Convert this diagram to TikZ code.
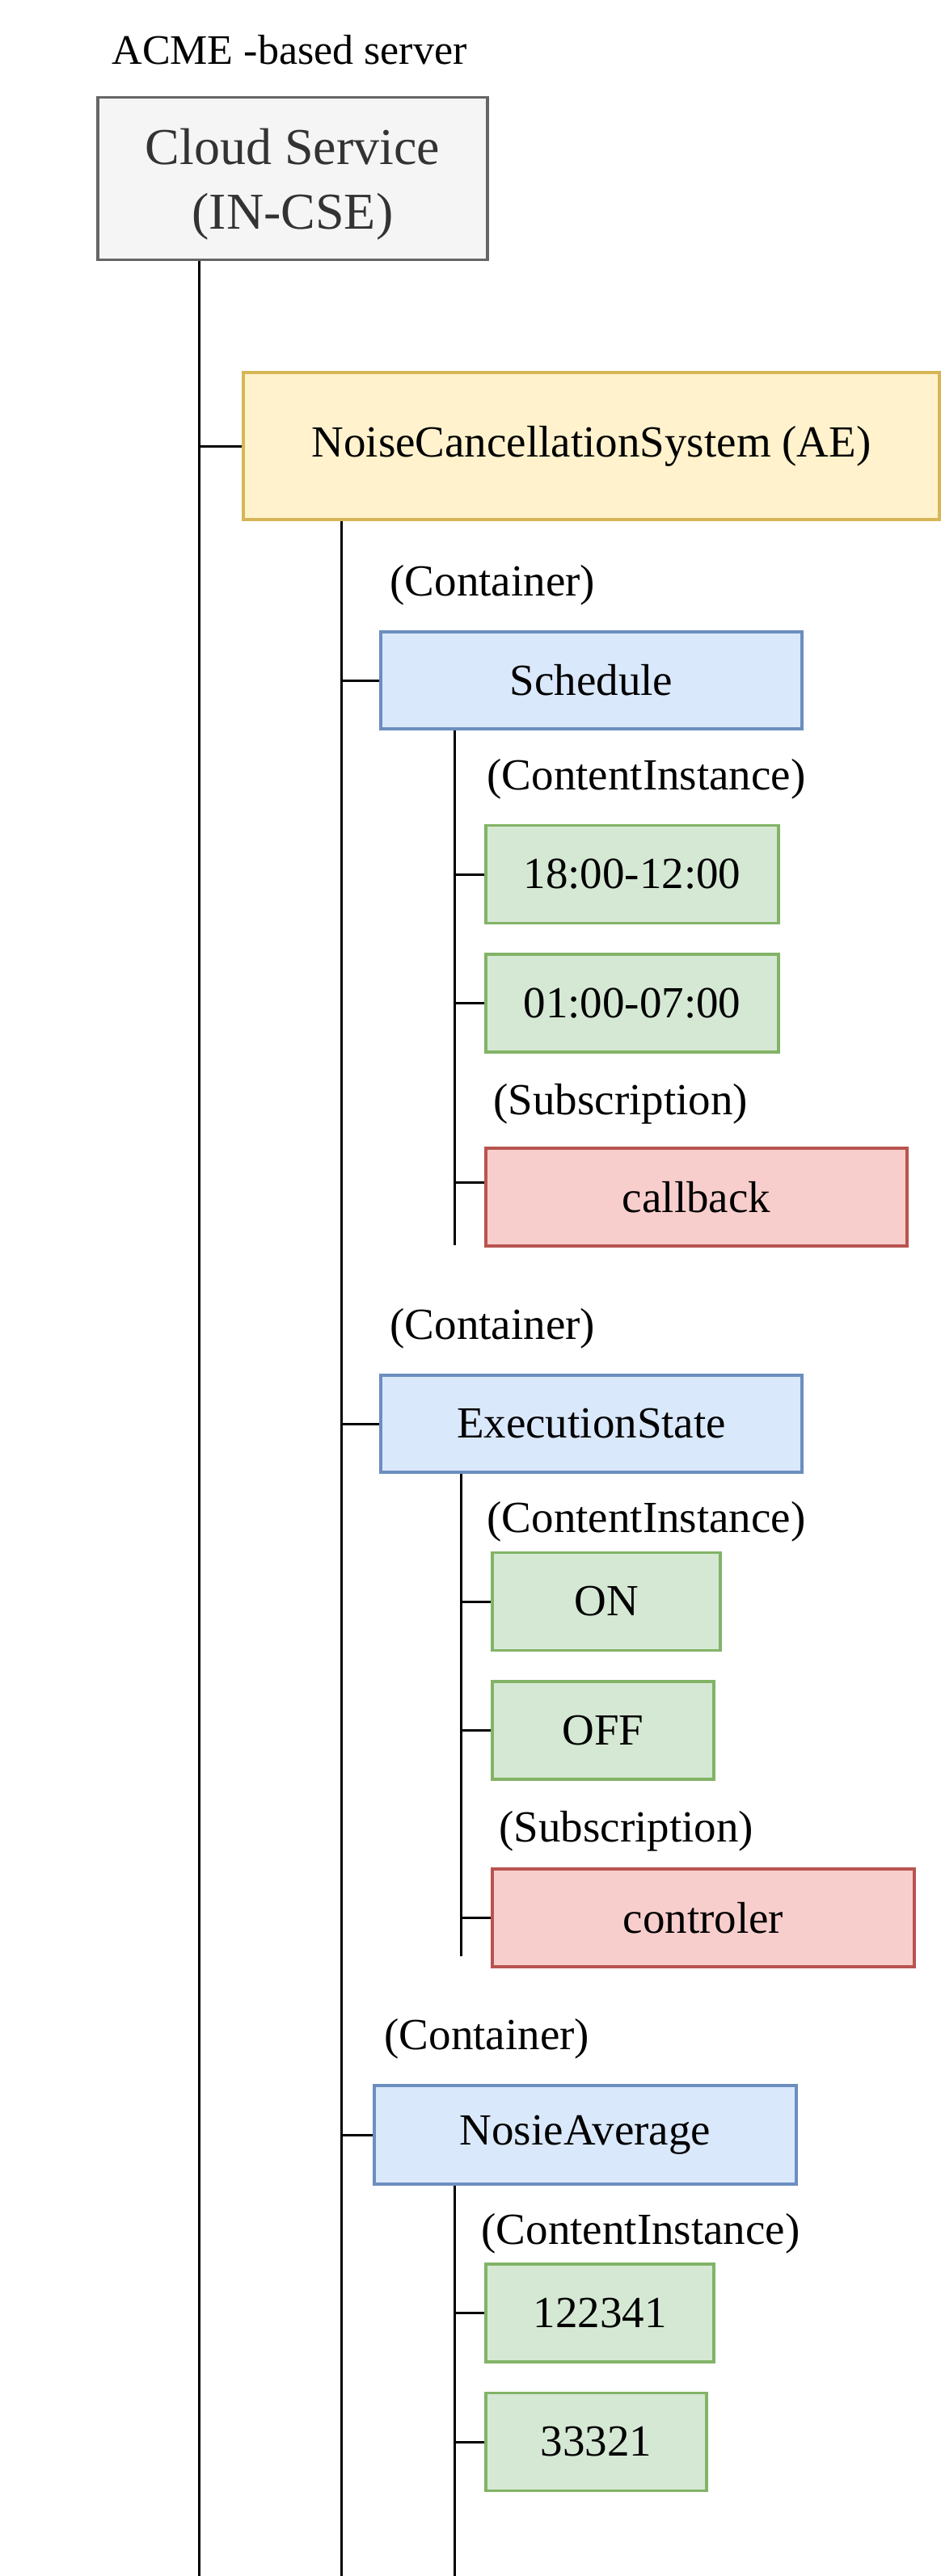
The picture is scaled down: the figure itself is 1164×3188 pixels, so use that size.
\documentclass[tikz,border=0pt]{standalone}
\usepackage{fontspec}
\setmainfont{Liberation Serif}

\definecolor{cseFill}{HTML}{F5F5F5}
\definecolor{cseDraw}{HTML}{666666}
\definecolor{cseText}{HTML}{333333}
\definecolor{aeFill}{HTML}{FFF2CC}
\definecolor{aeDraw}{HTML}{D6B656}
\definecolor{cntFill}{HTML}{DAE8FC}
\definecolor{cntDraw}{HTML}{6C8EBF}
\definecolor{cinFill}{HTML}{D5E8D4}
\definecolor{cinDraw}{HTML}{82B366}
\definecolor{subFill}{HTML}{F8CECC}
\definecolor{subDraw}{HTML}{B85450}

\tikzset{every picture/.style={line width=0.75pt}}

\begin{document}
\begin{tikzpicture}[x=0.25pt,y=0.25pt,yscale=-1,xscale=1,
  cell/.style={draw, line width=0.9pt, inner sep=0pt, align=center, font=\fontsize{13.75}{16.5}\selectfont},
  cnt/.style={cell, fill=cntFill, draw=cntDraw, minimum width=130.25pt, minimum height=30pt},
  cin/.style={cell, fill=cinFill, draw=cinDraw, minimum height=30.25pt},
  sub/.style={cell, fill=subFill, draw=subDraw, minimum width=130.25pt, minimum height=30.25pt},
  tag/.style={anchor=base west, inner sep=0pt, font=\fontsize{13.75}{16.5}\selectfont}]
\useasboundingbox (0,0) rectangle (1164,3188);

% Text Node
\node [tag, font=\fontsize{13}{15.6}\selectfont] (server) at (137,80) {ACME -based server};

%Shape: Rectangle (IN-CSE)
\node [cell, fill=cseFill, draw=cseDraw, minimum width=120.5pt, minimum height=50.25pt] (cse) at (362,221) {};
\node [inner sep=0pt, align=center, text=cseText, font=\fontsize{16}{20}\selectfont] (cseText) at ([yshift=1.75pt]cse.center) {Cloud Service\\(IN-CSE)};
%Shape: Rectangle (AE)
\node [cell, fill=aeFill, draw=aeDraw, minimum width=215.25pt, minimum height=45.5pt] (ae) at (731.5,552) {NoiseCancellationSystem (AE)};

% Containers
\node [tag] (lblSch) at (481,737) {(Container)};
\node [cnt] (sched) at (731.5,842) {Schedule};
\node [tag] (lblExe) at (481,1657) {(Container)};
\node [cnt] (exec) at (731.5,1762) {ExecutionState};
\node [tag] (lblAvg) at (474,2536) {(Container)};
\node [cnt, minimum width=130.5pt, minimum height=30.5pt] (avg) at (724,2642) {NosieAverage};

% Schedule children
\node [tag] (lblSchCin) at (601,977) {(ContentInstance)};
\node [cin, minimum width=90.5pt] (cinA) at (782,1082) {18:00-12:00};
\node [cin, minimum width=90.5pt] (cinB) at (782,1241.5) {01:00-07:00};
\node [tag] (lblSchSub) at (609,1379) {(Subscription)};
\node [sub] (callback) at (861.5,1481.5) {callback};

% ExecutionState children
\node [tag] (lblExeCin) at (601,1896) {(ContentInstance)};
\node [cin, minimum width=70.5pt] (cinOn) at (750,1982) {ON};
\node [cin, minimum width=68.5pt] (cinOff) at (746,2141.5) {OFF};
\node [tag] (lblExeSub) at (616,2279) {(Subscription)};
\node [sub, minimum width=130.5pt] (ctrl) at (870,2373.5) {controler};

% NosieAverage children
\node [tag] (lblAvgCin) at (594,2777) {(ContentInstance)};
\node [cin, minimum width=70.5pt] (cinC) at (742,2862.5) {122341};
\node [cin, minimum width=68.25pt] (cinD) at (737.5,3022) {33321};

% Trunk ends
\coordinate (cseEnd) at (246,3188);
\coordinate (aeEnd) at (422,3188);
\coordinate (schEnd) at (562,1541);
\coordinate (exeEnd) at (570,2421);
\coordinate (avgEnd) at (562,3188);
\coordinate (cbTick) at ([yshift=-4.6pt]callback.west);

%Straight Lines
\draw (cse.south -| cseEnd) -- (cseEnd);
\draw (cseEnd |- ae.west) -- (ae.west);

\draw (ae.south -| aeEnd) -- (aeEnd);
\foreach \c in {sched,exec,avg}
  \draw (aeEnd |- \c.west) -- (\c.west);

\draw (sched.south -| schEnd) -- (schEnd);
\foreach \c in {cinA,cinB}
  \draw (schEnd |- \c.west) -- (\c.west);
\draw (schEnd |- cbTick) -- (cbTick);

\draw (exec.south -| exeEnd) -- (exeEnd);
\foreach \c in {cinOn,cinOff,ctrl}
  \draw (exeEnd |- \c.west) -- (\c.west);

\draw (avg.south -| avgEnd) -- (avgEnd);
\foreach \c in {cinC,cinD}
  \draw (avgEnd |- \c.west) -- (\c.west);

\end{tikzpicture}
\end{document}
